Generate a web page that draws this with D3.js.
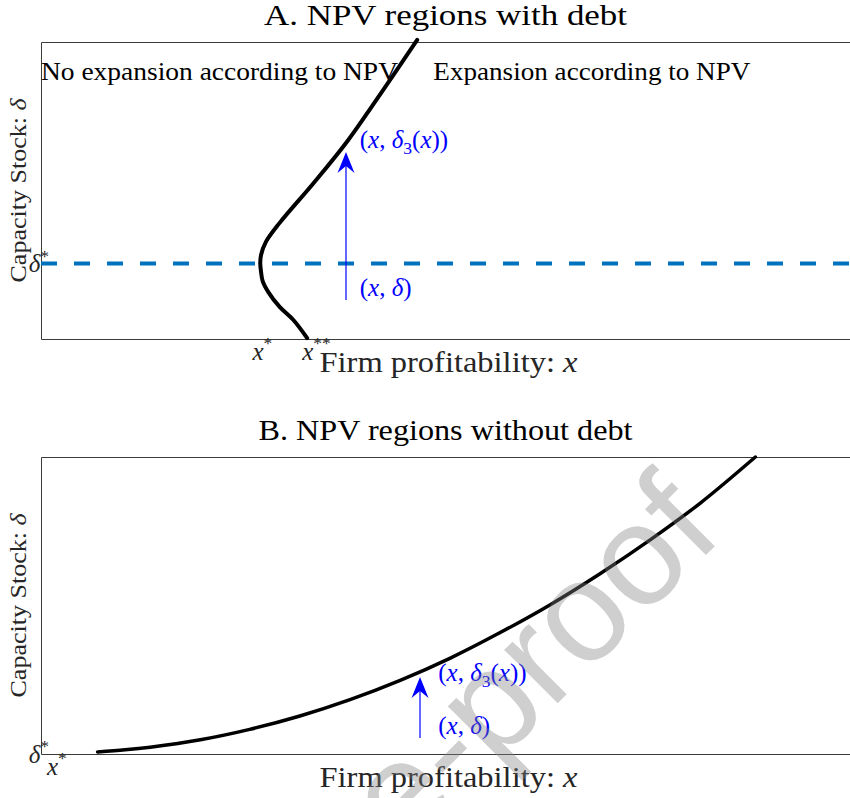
<!DOCTYPE html>
<html>
<head>
<meta charset="utf-8">
<script src="https://cdn.jsdelivr.net/npm/d3@7"></script>
<style>
body { margin: 0; background: #fff; }
svg { display: block; }
</style>
</head>
<body>
<div class="chart-npv"><svg></svg></div>
<script>
'use strict';

// common domains (model units)
var xDomain = [0, 10];
var deltaDomain = [0, 10];

// Panel A: expansion boundary delta_3(x) with debt
var debtX = [4.65, 4.22, 3.77, 3.36, 2.95, 2.78, 2.72, 2.71, 2.72, 2.74, 2.81, 2.95, 3.12, 3.29];
var debtDelta = [10.07, 8.35, 6.60, 5.22, 3.91, 3.27, 2.83, 2.56, 2.26, 1.95, 1.58, 1.08, 0.64, 0.03];
var debtDeltaStar = 2.54;
var debtTickX = [2.73, 3.40];
var debtTickXLabels = ['*', '**'];
var debtArrow = [3.77, 1.31, 6.30];          // x, delta from, delta to
var debtLabelUpper = [3.94, 6.43];
var debtLabelLower = [3.94, 1.45];
var regionText = ['No expansion according to NPV', 'Expansion according to NPV'];
var regionTextX = [0, 4.85];
var regionTextDelta = 8.72;

// Panel B: expansion boundary without debt
var noDebtX = [0.70, 1.04, 1.35, 1.97, 2.58, 3.20, 3.82, 4.44, 5.06, 5.67, 6.29, 6.91, 7.53, 8.15, 8.83];
var noDebtDelta = [0.07, 0.14, 0.23, 0.48, 0.83, 1.28, 1.83, 2.48, 3.23, 4.08, 5.02, 6.07, 7.21, 8.45, 10.0];
var noDebtDeltaStar = 0;
var noDebtTickX = [0.19];
var noDebtTickXLabels = ['*'];
var noDebtArrow = [4.685, 0.54, 2.59];
var noDebtLabelUpper = [4.91, 2.46];
var noDebtLabelLower = [4.91, 0.67];

var titles = ['A. NPV regions with debt', 'B. NPV regions without debt'];
var xLabel = 'Firm profitability: ';
var yLabel = 'Capacity Stock: ';

var width = 850;
var height = 798;
var left = 41;
var right = 850;
var serif = '"Liberation Serif", "DejaVu Serif", serif';
var axisColor = '#3a3a3a';
var labelColor = '#262626';
var blue = '#0000ff';

var svg = d3.select('.chart-npv svg').attr('width', width).attr('height', height)
    .style('font-family', serif);
var x = d3.scaleLinear().domain(xDomain).range([left, right]);

// small helper for TeX-like pieces: {t: text, s: 'i' | 'sup' | 'sub'}
function addParts(text, parts, size) {
    var shift = 0;
    parts.forEach(function (p) {
        var t = text.append('tspan').text(p.t);
        var want = 0;
        if (p.s === 'sup') want = -0.42 * size;
        if (p.s === 'sub') want = 0.25 * size;
        if (want - shift !== 0) t.attr('dy', want - shift);
        shift = want;
        if (p.s === 'i') t.style('font-style', 'italic');
        if (p.s === 'sup' || p.s === 'sub') t.attr('font-size', size * 0.7);
    });
}

function drawPanel(p) {
    var y = d3.scaleLinear().domain(deltaDomain).range([p.bottom, p.top]);
    var g = svg.append('g').attr('class', 'panel');

    // box (left, top, bottom)
    var axTop = d3.axisTop(x).tickValues([]).tickSizeOuter(0);
    g.append('g').attr('transform', 'translate(0,' + p.top + ')').call(axTop)
        .select('.domain').attr('stroke', axisColor);

    var axX = d3.axisBottom(x).tickValues(p.tickX).tickSize(0).tickSizeOuter(0).tickPadding(3);
    var gx = g.append('g').attr('transform', 'translate(0,' + p.bottom + ')').call(axX)
        .attr('font-family', null).attr('font-size', 25);
    gx.select('.domain').attr('stroke', axisColor);
    gx.selectAll('.tick text').attr('fill', labelColor).each(function (d, i) {
        var t = d3.select(this).text(null);
        addParts(t, [{ t: 'x', s: 'i' }, { t: p.tickXLabels[i], s: 'sup' }], 25);
    });

    var axY = d3.axisLeft(y).tickValues([p.deltaStar]).tickSize(0).tickSizeOuter(0).tickPadding(-8);
    var gy = g.append('g').attr('transform', 'translate(' + left + ',0)').call(axY)
        .attr('font-family', null).attr('font-size', 25);
    gy.select('.domain').attr('stroke', axisColor);
    gy.selectAll('.tick text').attr('fill', labelColor).each(function () {
        var t = d3.select(this).text(null);
        addParts(t, [{ t: 'δ', s: 'i' }, { t: '*', s: 'sup' }], 25);
    });

    // dashed delta* line
    if (p.dashed) {
        g.append('line')
            .attr('x1', x(xDomain[0])).attr('x2', x(xDomain[1]))
            .attr('y1', y(p.deltaStar)).attr('y2', y(p.deltaStar))
            .attr('stroke', '#0072bd').attr('stroke-width', 4)
            .attr('stroke-dasharray', '16,17');
    }

    // boundary curve
    var line = d3.line()
        .x(function (d) { return x(d[0]); })
        .y(function (d) { return y(d[1]); })
        .curve(d3.curveCatmullRom);
    g.append('path').datum(d3.zip(p.curveX, p.curveDelta))
        .attr('d', line).attr('fill', 'none')
        .attr('stroke', '#000').attr('stroke-width', p.curveWidth)
        .attr('stroke-linejoin', 'round').attr('stroke-linecap', 'round');

    // arrow (x,delta) -> (x,delta_3(x))
    var ax = x(p.arrow[0]);
    var y0 = y(p.arrow[1]);
    var y1 = y(p.arrow[2]);
    g.append('line').attr('x1', ax).attr('x2', ax).attr('y1', y0).attr('y2', y1 + 14)
        .attr('stroke', blue).attr('stroke-width', 1.2);
    g.append('path')
        .attr('d', 'M' + ax + ',' + y1 + 'L' + (ax - 8.5) + ',' + (y1 + 21) +
            'L' + ax + ',' + (y1 + 14) + 'L' + (ax + 8.5) + ',' + (y1 + 21) + 'Z')
        .attr('fill', blue);

    var up = g.append('text').attr('x', x(p.labelUpper[0])).attr('y', y(p.labelUpper[1]))
        .attr('fill', blue).attr('font-size', 25);
    addParts(up, [{ t: '(' }, { t: 'x', s: 'i' }, { t: ', ' }, { t: 'δ', s: 'i' }, { t: '3', s: 'sub' },
        { t: '(' }, { t: 'x', s: 'i' }, { t: '))' }], 25);
    var lo = g.append('text').attr('x', x(p.labelLower[0])).attr('y', y(p.labelLower[1]))
        .attr('fill', blue).attr('font-size', 25);
    addParts(lo, [{ t: '(' }, { t: 'x', s: 'i' }, { t: ', ' }, { t: 'δ', s: 'i' }, { t: ')' }], 25);

    // region texts
    if (p.regions) {
        p.regions.forEach(function (r, i) {
            g.append('text').attr('x', x(regionTextX[i])).attr('y', y(regionTextDelta))
                .attr('font-size', 25).attr('fill', '#000')
                .attr('textLength', i === 0 ? 357 : 317).attr('lengthAdjust', 'spacingAndGlyphs')
                .text(r);
        });
    }

    // title and axis labels
    g.append('text').attr('x', (left + right) / 2).attr('y', p.top - 17)
        .attr('text-anchor', 'middle').attr('font-size', 30).attr('fill', '#000')
        .attr('textLength', p.titleLen).attr('lengthAdjust', 'spacingAndGlyphs')
        .text(p.title);

    var xl = g.append('text').attr('x', (left + right) / 2 + 3).attr('y', p.bottom + 33)
        .attr('text-anchor', 'middle').attr('font-size', 30).attr('fill', labelColor)
        .attr('textLength', 258).attr('lengthAdjust', 'spacingAndGlyphs');
    addParts(xl, [{ t: xLabel }, { t: 'x', s: 'i' }], 30);

    var yl = g.append('text')
        .attr('transform', 'translate(26,' + ((p.top + p.bottom) / 2) + ') rotate(-90)')
        .attr('text-anchor', 'middle').attr('font-size', 24).attr('fill', labelColor)
        .attr('textLength', 184).attr('lengthAdjust', 'spacingAndGlyphs');
    addParts(yl, [{ t: yLabel }, { t: 'δ', s: 'i' }], 24);
}

drawPanel({
    top: 42, bottom: 339, title: titles[0], titleLen: 363,
    curveX: debtX, curveDelta: debtDelta, curveWidth: 4,
    deltaStar: debtDeltaStar, tickX: debtTickX, tickXLabels: debtTickXLabels,
    arrow: debtArrow, labelUpper: debtLabelUpper, labelLower: debtLabelLower,
    dashed: true, regions: regionText
});

drawPanel({
    top: 457, bottom: 754, title: titles[1], titleLen: 374,
    curveX: noDebtX, curveDelta: noDebtDelta, curveWidth: 3.5,
    deltaStar: noDebtDeltaStar, tickX: noDebtTickX, tickXLabels: noDebtTickXLabels,
    arrow: noDebtArrow, labelUpper: noDebtLabelUpper, labelLower: noDebtLabelLower,
    dashed: false, regions: null
});

// journal watermark on top
svg.append('text')
    .attr('transform', 'translate(725,536) rotate(-45)')
    .attr('text-anchor', 'end')
    .style('font-family', '"Liberation Sans", Arimo, Arial, sans-serif')
    .attr('font-size', 143)
    .attr('fill', '#808080').attr('fill-opacity', 0.38)
    .text('Journal Pre-proof');
</script>
</body>
</html>
